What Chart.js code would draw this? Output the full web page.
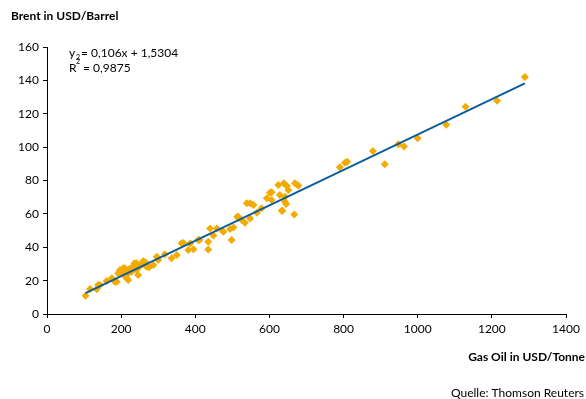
<!DOCTYPE html>
<html>
<head>
<meta charset="utf-8">
<script src="https://cdn.jsdelivr.net/npm/chart.js@4/dist/chart.umd.min.js"></script>
<style>
  html, body { margin:0; padding:0; background:#fff; }
  #wrap { position:relative; width:586px; height:399px; }
</style>
</head>
<body>
<div id="wrap"><canvas id="c" width="586" height="399"></canvas></div>
<script>
// ── Monthly prices: gas oil (USD/t) vs. Brent (USD/bbl) ─────
const gasOil = [
  104,116,134,138,143,161,175,183,188,192,197,201,206,210,215,219,219,228,
  222,232,236,242,246,242,250,255,260,264,269,275,287,296,300,318,336,350,
  363,368,381,386,395,408,411,435,435,440,449,458,474,476,494,498,503,513,
  516,525,534,539,548,548,557,566,579,593,601,606,606,624,628,633,635,639,
  642,642,645,647,651,667,669,678,790,804,810,879,911,948,963,1000,1077,
  1129,1214,1289,
  204,212,226,238,252,266
];
const brent = [
  11.0,15.0,14.8,17.4,17.4,19.8,21.4,19.4,19.4,24.4,26.4,26.0,27.4,27.4,21.4,
  24.4,20.4,25.3,27.0,28.4,30.4,30.4,23.4,26.4,28.8,29.6,31.8,29.4,28.3,28.0,
  29.4,34.3,32.4,35.8,33.4,35.3,42.4,42.5,38.3,42.3,38.8,44.3,44.3,43.3,38.6,
  51.3,47.0,51.3,49.7,49.3,51.0,44.3,51.9,58.3,58.3,56.3,54.7,66.3,57.3,66.3,
  65.3,60.7,63.3,69.3,72.7,68.3,72.9,77.3,71.3,61.9,61.9,78.3,70.3,67.3,65.9,
  76.7,74.3,59.7,78.3,76.9,87.9,90.7,91.3,97.7,89.7,101.7,100.3,105.3,113.4,
  124.2,127.8,142.0,
  24.0,25.5,26.6,28.0,29.2,30.8
];
// linear fit printed on the chart
const fitSlope = 0.106;
const fitIntercept = 1.5304;
const fitLabel = ['= 0,106x + 1,5304', ' = 0,9875'];

const yTicks = [0,20,40,60,80,100,120,140,160];
const xTicks = [0,200,400,600,800,1000,1200,1400];

const ORANGE = '#f5aa00';
const BLUE   = '#0c5d9b';
const FONT   = "Lato, 'Open Sans', sans-serif";

const points = gasOil.map((x, i) => ({ x, y: brent[i] }));
const xMin = Math.min(...gasOil), xMax = Math.max(...gasOil);
const fitLine = [xMin, xMax].map(x => ({ x, y: fitSlope * x + fitIntercept }));

// titles, source note and the fit equation
const labelsPlugin = {
  id: 'labels',
  afterDraw(chart) {
    const ctx = chart.ctx;
    ctx.save();
    ctx.fillStyle = '#000';
    ctx.textBaseline = 'middle';

    ctx.font = 'bold 12px ' + FONT;
    ctx.textAlign = 'left';
    ctx.fillText('Brent in USD/Barrel', 11, 16);
    ctx.textAlign = 'right';
    ctx.fillText('Gas Oil in USD/Tonne', 585, 357);

    ctx.font = '12px ' + FONT;
    ctx.fillText('Quelle: Thomson Reuters', 584, 393);

    ctx.textAlign = 'left';
    ctx.fillText('y', 69, 53);
    ctx.fillText(fitLabel[0], 81, 53);
    ctx.fillText('R', 69, 68);
    ctx.fillText(fitLabel[1], 80, 68);
    ctx.font = '7px ' + FONT;
    ctx.fillText('2', 76, 58);
    ctx.fillText('2', 76, 62);
    ctx.restore();
  }
};

const axisCommon = {
  border: { display:true, color:'#000', width:1 },
  grid: { display:true, drawOnChartArea:false, drawTicks:true, tickLength:4, color:'#000' },
  ticks: { color:'#000', font:{ family:FONT, size:12 }, padding:4, callback: v => String(v) }
};

new Chart(document.getElementById('c').getContext('2d'), {
  type: 'scatter',
  data: {
    datasets: [
      {
        data: points,
        pointStyle: 'rectRot',
        pointRadius: 4,
        pointBackgroundColor: ORANGE,
        pointBorderColor: ORANGE,
        pointBorderWidth: 0,
        order: 2
      },
      {
        type: 'line',
        data: fitLine,
        borderColor: BLUE,
        borderWidth: 2,
        pointRadius: 0,
        fill: false,
        order: 1
      }
    ]
  },
  options: {
    responsive: false,
    animation: false,
    layout: { padding: { left:0, top:47, right:20, bottom:65 } },
    plugins: { legend:{ display:false }, tooltip:{ enabled:false } },
    scales: {
      x: {
        ...axisCommon,
        type: 'linear',
        min: 0, max: 1400,
        afterBuildTicks: s => { s.ticks = xTicks.map(v => ({ value:v })); },
        afterFit: s => { s.height = 20; }
      },
      y: {
        ...axisCommon,
        type: 'linear',
        min: 0, max: 160,
        afterBuildTicks: s => { s.ticks = yTicks.map(v => ({ value:v })); },
        afterFit: s => { s.width = 47; }
      }
    }
  },
  plugins: [labelsPlugin]
});
</script>
</body>
</html>
